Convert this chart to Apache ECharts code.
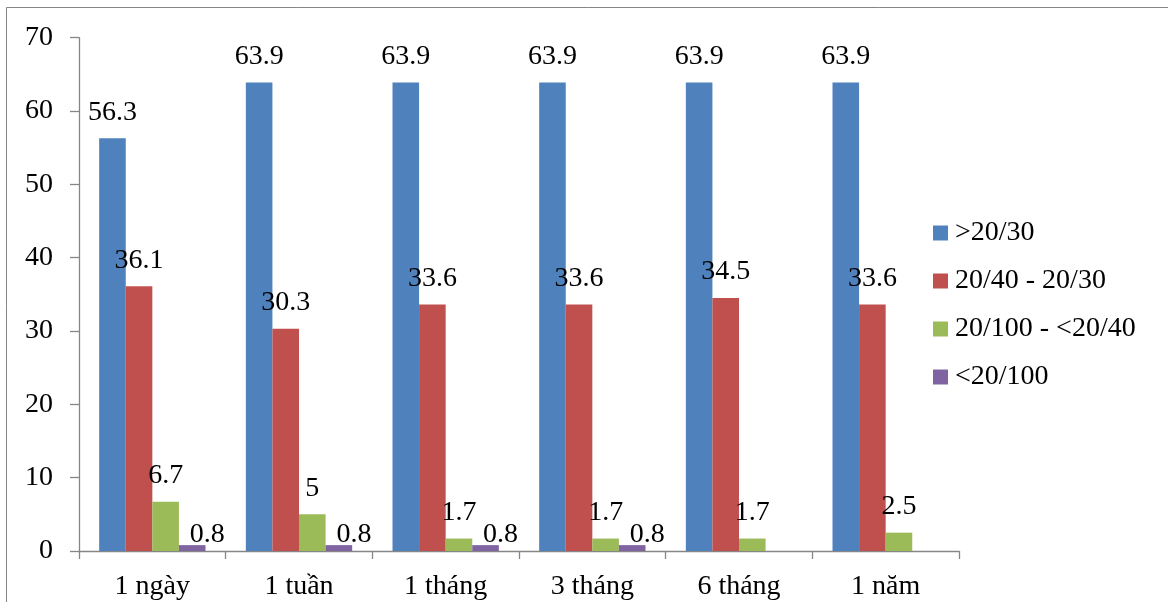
<!DOCTYPE html>
<html>
<head>
<meta charset="utf-8">
<script src="https://cdn.jsdelivr.net/npm/echarts@6/dist/echarts.min.js"></script>
<style>
  html, body { margin: 0; padding: 0; background: #fff; }
  #chart { width: 1168px; height: 602px; }
</style>
</head>
<body>
<div id="chart"></div>
<script>
// Thời điểm theo dõi
const categories = ['1 ngày', '1 tuần', '1 tháng', '3 tháng', '6 tháng', '1 năm'];

// Tỷ lệ (%) theo nhóm thị lực
const seriesNames = ['>20/30', '20/40 - 20/30', '20/100 - <20/40', '<20/100'];
const above2030 = [56.3, 63.9, 63.9, 63.9, 63.9, 63.9];
const from2040to2030 = [36.1, 30.3, 33.6, 33.6, 34.5, 33.6];
const from20100to2040 = [6.7, 5, 1.7, 1.7, 1.7, 2.5];
const below20100 = [0.8, 0.8, 0.8, 0.8, null, null];

const yTicks = { min: 0, max: 70, interval: 10 };

const colors = ['#4F81BD', '#C0504D', '#9BBB59', '#8064A2'];
const FONT = "'Liberation Serif', 'Times New Roman', 'DejaVu Serif', serif";
const axisGray = '#868686';

function barSeries(name, data, color, labelOffset) {
  return {
    name: name,
    type: 'bar',
    data: data,
    itemStyle: { color: color },
    barGap: '0%',
    barCategoryGap: '27.5%',
    label: {
      show: true,
      position: 'top',
      distance: 12,
      offset: labelOffset || [0, 0],
      color: '#000',
      fontFamily: FONT,
      fontSize: 28
    }
  };
}

const chart = echarts.init(document.getElementById('chart'), null, { renderer: 'canvas' });

chart.setOption({
  animation: false,
  backgroundColor: '#fff',
  color: colors,
  graphic: [{
    type: 'rect',
    shape: { x: 6.5, y: 7.5, width: 1300, height: 800 },
    style: { fill: 'none', stroke: axisGray, lineWidth: 1 },
    silent: true
  }],
  grid: { left: 79, right: 209, top: 37.7, bottom: 51, containLabel: false },
  legend: {
    orient: 'vertical',
    left: 933,
    top: 218,
    padding: 0,
    icon: 'rect',
    itemWidth: 15,
    itemHeight: 15,
    itemGap: 18,
    textStyle: { fontFamily: FONT, fontSize: 28, color: '#000', lineHeight: 30, padding: [0, 0, 0, 2] },
    data: seriesNames
  },
  xAxis: {
    type: 'category',
    data: categories,
    boundaryGap: true,
    axisLine: { lineStyle: { color: axisGray, width: 1.3 } },
    axisTick: { show: true, length: 8, alignWithLabel: false, lineStyle: { color: axisGray, width: 1.3 } },
    axisLabel: { color: '#000', fontFamily: FONT, fontSize: 28, margin: 22 },
    splitLine: { show: false }
  },
  yAxis: {
    type: 'value',
    min: yTicks.min,
    max: yTicks.max,
    interval: yTicks.interval,
    axisLine: { show: true, lineStyle: { color: axisGray, width: 1.3 } },
    axisTick: { show: true, length: 9, lineStyle: { color: axisGray, width: 1.3 } },
    axisLabel: { color: '#000', fontFamily: FONT, fontSize: 28, margin: 26 },
    splitLine: { show: false }
  },
  series: [
    barSeries(seriesNames[0], above2030, colors[0]),
    barSeries(seriesNames[1], from2040to2030, colors[1]),
    barSeries(seriesNames[2], from20100to2040, colors[2]),
    barSeries(seriesNames[3], below20100, colors[3], [15, 16])
  ]
});
</script>
</body>
</html>
